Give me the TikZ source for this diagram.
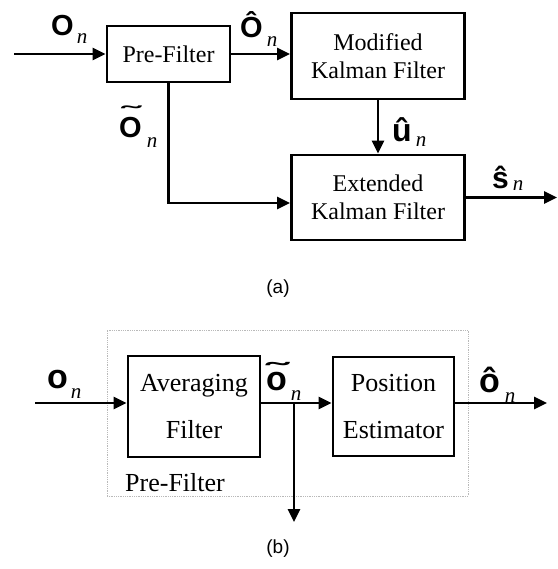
\documentclass[tikz,border=0pt]{standalone}
\usepackage{fontspec}
\usepackage{graphicx}
\setmainfont{Liberation Serif}
\setsansfont{Liberation Sans}
\usetikzlibrary{arrows.meta}
\tikzset{
  blk/.style={draw, line width=2.8pt, inner sep=0pt, align=center,
    font=\fontsize{24}{28}\selectfont},
  blkb/.style={blk, font=\fontsize{26}{47}\selectfont},
  wire/.style={line width=2.8pt},
  arr/.style={wire, -{Triangle[length=13pt,width=12pt]}},
  sig/.style={inner sep=0pt, anchor=base west},
  sublabel/.style={font=\sffamily\fontsize{19}{19}\selectfont}
}
% bold sans signal letter (#1, size #2) with an italic serif subscript n,
% set #3 to the right of the letter and #4 below its baseline
\newcommand\sigsym[4]{{\sffamily\bfseries\fontsize{#2}{#2}\selectfont #1}\kern#3\raisebox{-#4}{\fontsize{21}{21}\selectfont\itshape n}}
% letter #1 with a wide, flat tilde raised by #2
\newcommand\widetil[2]{\ooalign{#1\cr\hidewidth\raisebox{#2}{\scalebox{1.9}[0.7]{\char"02DC}}\hidewidth\cr}}
\begin{document}
\begin{tikzpicture}[x=1pt,y=-1pt]
\useasboundingbox (0,0) rectangle (557,569);

% ---- (a) overall tracker ----
\node[blk, minimum width=123pt, minimum height=56pt] (pf) at (168.5,54) {Pre-Filter};
\node[blk, minimum width=173pt, minimum height=86pt] (mkf) at (378,56) {Modified\\Kalman Filter};
\node[blk, minimum width=173pt, minimum height=85pt] (ekf) at (378,197.5) {Extended\\Kalman Filter};
\coordinate (in1) at (14,54);
\coordinate (turn) at (168.5,203);
\coordinate (out1) at (557,197.5);
\draw[arr] (in1) -- (pf.west);
\draw[arr] (pf.east) -- (pf.east -| mkf.west);
\draw[arr] (mkf.south) -- (ekf.north);
\draw[arr] (pf.south) -- (turn) -- (turn -| ekf.west);
\draw[arr] (ekf.east) -- (out1);

\node[sig] (lo) at (51,36) {\sigsym{O}{29}{3pt}{8pt}};
\node[sig] (loh) at (240,38) {\sigsym{\^O}{29}{4pt}{9pt}};
\node[sig] (lot) at (119,138) {\sigsym{\widetil{O}{17pt}}{29}{5pt}{10pt}};
\node[sig] (luh) at (392,142) {\sigsym{\^u}{32}{4pt}{5pt}};
\node[sig] (lsh) at (492,189) {\sigsym{\^s}{30}{4pt}{2pt}};
\node[sublabel] (capa) at (278,289) {(a)};

% ---- (b) pre-filter detail ----
\node[draw=gray!55, densely dotted, line width=0.8pt, minimum width=361pt,
  minimum height=166pt, inner sep=0pt] (pfb) at (287.5,413) {};
\node[blkb, minimum width=132pt, minimum height=101pt] (avg) at (194,406.5) {Averaging\\Filter};
\node[blkb, minimum width=121pt, minimum height=99pt] (pos) at (393.5,406.5) {Position\\Estimator};
\node[anchor=base west, inner sep=0pt, font=\fontsize{26}{26}\selectfont] (pfl) at (125,491) {Pre-Filter};
\coordinate (in2) at (35,403);
\coordinate (br) at (294,403);
\coordinate (down) at (294,522);
\coordinate (out2) at (547,403);
\draw[arr] (in2) -- (in2 -| avg.west);
\draw[arr] (br -| avg.east) -- (br -| pos.west);
\draw[arr] (br) -- (down);
\draw[arr] (br -| pos.east) -- (out2);

\node[sig] (bo) at (47,388) {\sigsym{o}{34}{3pt}{10pt}};
\node[sig] (bot) at (266,390) {\sigsym{\widetil{o}{11pt}}{34}{4pt}{10pt}};
\node[sig] (boh) at (479,392) {\sigsym{\^o}{34}{5pt}{10pt}};
\node[sublabel] (capb) at (278,549) {(b)};
\end{tikzpicture}
\end{document}
